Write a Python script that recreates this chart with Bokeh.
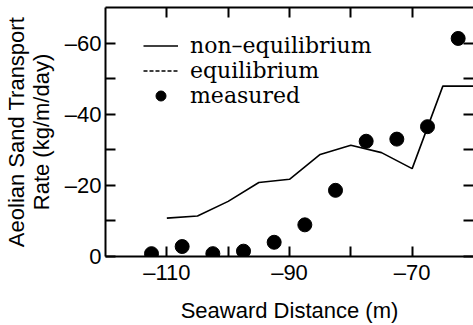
from bokeh.plotting import figure
from bokeh.models import (Range1d, LinearAxis, FixedTicker, Legend, LegendItem,
                          CustomLabelingPolicy)
from bokeh.embed import file_html
from bokeh.resources import INLINE

# ---- data ----
x_model = [-110, -105, -100, -95, -90, -85, -80, -75, -70, -65, -60]
nonequil = [-10.8, -11.4, -15.5, -20.8, -21.7, -28.7, -31.3, -29.2, -24.7, -47.9, -47.9]
x_equil = [float("nan")]          # equilibrium curve not visible in this panel
equil = [float("nan")]
x_meas = [-112.5, -107.5, -102.5, -97.5, -92.5, -87.5, -82.5, -77.5, -72.5, -67.5, -62.5]
measured = [-0.8, -2.8, -0.8, -1.5, -4.0, -8.9, -18.6, -32.4, -33.0, -36.5, -61.3]

x_ticks = [-110, -100, -90, -80, -70]
x_labels = {-110: "\u2013110", -100: "", -90: "\u201390", -80: "", -70: "\u201370"}
y_ticks = [0, -10, -20, -30, -40, -50, -60]
y_labels = {0: "0", -10: "", -20: "\u201320", -30: "", -40: "\u201340", -50: "", -60: "\u201360"}

p = figure(width=473, height=325, output_backend="svg", toolbar_location=None,
           x_range=Range1d(-120, -60), y_range=Range1d(0, -70),
           min_border_left=105, min_border_right=0, min_border_top=7,
           min_border_bottom=69)
p.outline_line_color = None
p.xgrid.visible = False
p.ygrid.visible = False
p.background_fill_color = "white"

FONT = "Liberation Sans"


def style(ax, ticks, labels=None):
    ax.ticker = FixedTicker(ticks=ticks)
    ax.major_tick_in = 10
    ax.major_tick_out = 0
    ax.minor_tick_line_color = None
    ax.axis_line_width = 2
    ax.major_tick_line_width = 2
    ax.axis_line_color = "black"
    ax.major_tick_line_color = "black"
    if labels is not None:
        ax.major_label_overrides = labels
        ax.major_label_text_font = FONT
        ax.major_label_text_font_size = "22px"
        ax.major_label_text_color = "black"
        ax.axis_label_text_font = FONT
        ax.axis_label_text_font_size = "22px"
        ax.axis_label_text_font_style = "normal"
        ax.axis_label_text_color = "black"
    else:
        ax.major_label_overrides = {t: "" for t in ticks}
        ax.major_label_text_font_size = "2px"
        ax.major_label_standoff = 0
        ax.major_label_policy = CustomLabelingPolicy(
            code="for (const i of Array.from(indices)) { indices.unset(i) }")


xa = p.xaxis[0]
style(xa, x_ticks, x_labels)
xa.major_label_standoff = 3
xa.axis_label = "Seaward Distance (m)"
xa.axis_label_standoff = 10

ya = p.yaxis[0]
style(ya, y_ticks, y_labels)
ya.major_label_standoff = 4
ya.major_label_orientation = "horizontal"
ya.axis_label = "Aeolian Sand Transport\nRate (kg/m/day)"
ya.axis_label_text_line_height = 1.0
ya.axis_label_standoff = 8

top = LinearAxis()
style(top, x_ticks)
p.add_layout(top, "above")

right = LinearAxis()
style(right, y_ticks)
right.axis_line_color = None
p.add_layout(right, "right")

r_line = p.line(x_model, nonequil, line_color="black", line_width=1.6)
r_eq = p.line(x_equil, equil, line_color="black", line_width=1.5, line_dash="4 2")
r_pts = p.scatter(x_meas, measured, size=14, color="black")

legend = Legend(items=[LegendItem(label="non\u2013equilibrium", renderers=[r_line]),
                       LegendItem(label="equilibrium", renderers=[r_eq]),
                       LegendItem(label="measured", renderers=[r_pts])],
                location=(38, 148))
legend.label_text_font = "DejaVu Serif"
legend.label_text_font_size = "22px"
legend.label_text_color = "black"
legend.glyph_width = 35
legend.glyph_height = 25
legend.label_standoff = 12
legend.padding = 0
legend.spacing = 0
legend.margin = 0
legend.border_line_color = None
legend.background_fill_alpha = 0
p.add_layout(legend)

open("out.html", "w").write(file_html(p, INLINE))
